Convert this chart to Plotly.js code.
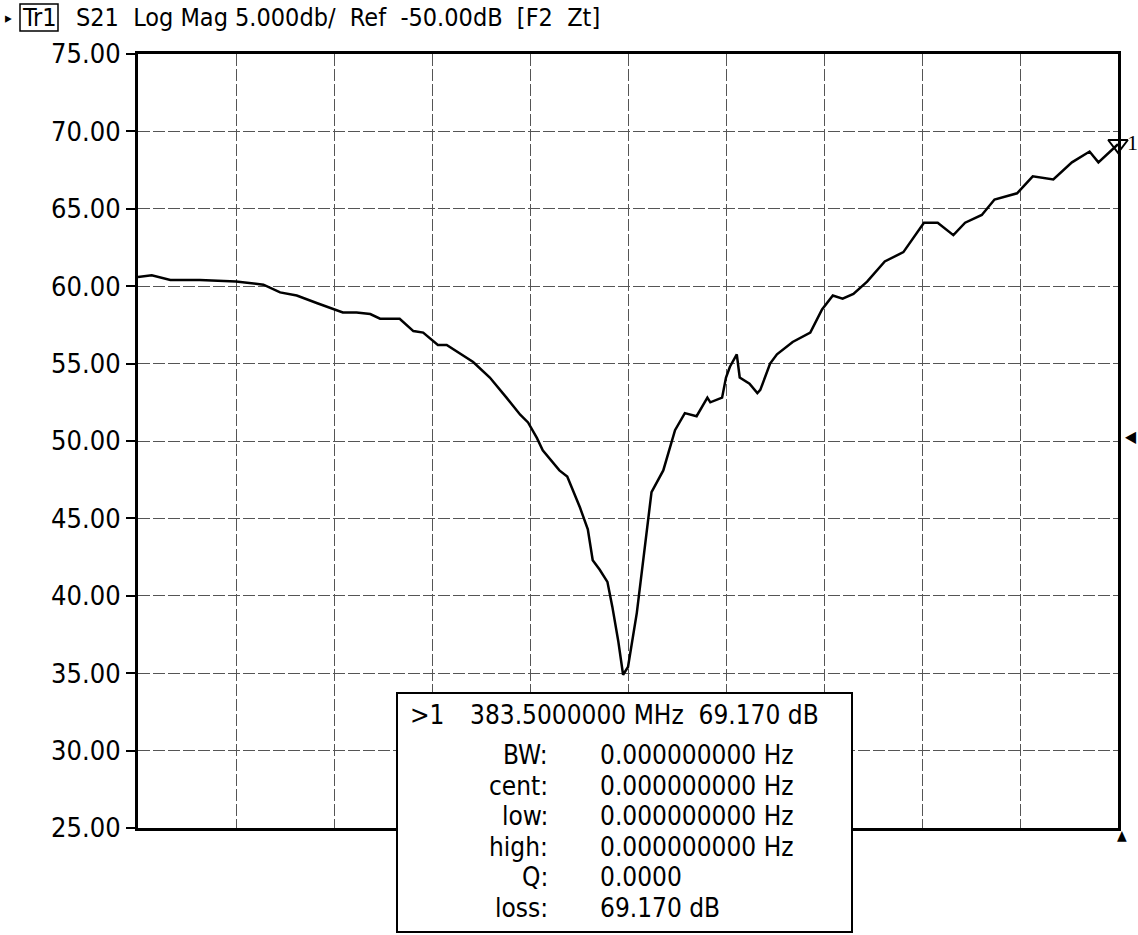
<!DOCTYPE html>
<html>
<head>
<meta charset="utf-8">
<script src="https://cdn.plot.ly/plotly-3.0.1.min.js"></script>
<style>html,body{margin:0;padding:0;background:#fff;}#chart{width:1138px;height:935px;}</style>
</head>
<body>
<div id="chart"></div>
<script>
// Sweep position in grid divisions (0 = start, 10 = stop; stop = 383.5 MHz)
const sweepDiv = [0.00,0.14,0.33,0.63,1.00,1.28,1.45,1.62,1.83,2.00,2.09,2.23,2.37,2.47,2.67,2.81,2.91,3.06,3.15,3.42,3.59,3.76,3.90,3.98,4.07,4.13,4.30,4.38,4.51,4.59,4.64,4.71,4.79,4.84,4.90,4.95,5.00,5.09,5.15,5.24,5.36,5.48,5.58,5.70,5.81,5.84,5.96,6.00,6.04,6.11,6.14,6.24,6.32,6.35,6.45,6.52,6.68,6.79,6.86,6.98,7.09,7.19,7.30,7.44,7.62,7.81,8.02,8.16,8.32,8.44,8.61,8.74,8.97,9.13,9.34,9.53,9.71,9.80,10.00];
// S21 log magnitude, dB
const s21Db = [60.6,60.7,60.4,60.4,60.3,60.1,59.6,59.4,58.9,58.5,58.3,58.3,58.2,57.9,57.9,57.1,57.0,56.2,56.2,55.1,54.1,52.8,51.7,51.2,50.2,49.4,48.1,47.7,45.7,44.3,42.3,41.7,40.9,39.3,37.1,34.9,35.4,38.9,41.9,46.7,48.1,50.7,51.8,51.6,52.8,52.5,52.8,54.1,54.8,55.6,54.1,53.7,53.1,53.3,55.0,55.6,56.4,56.8,57.0,58.5,59.4,59.2,59.5,60.3,61.6,62.2,64.1,64.1,63.3,64.1,64.6,65.6,66.0,67.1,66.9,68.0,68.7,68.0,69.17];
// Y tick values
const yTicks = [25,30,35,40,45,50,55,60,65,70,75];
// Marker 1
const markerDiv = [10.00];
const markerDb = [69.17];
// Text
const headerText = "S21\u00a0\u00a0Log Mag 5.000db/\u00a0\u00a0Ref\u00a0\u00a0-50.00dB\u00a0\u00a0[F2\u00a0\u00a0Zt]";
const markerLine = "383.5000000 MHz\u00a0\u00a069.170 dB";
const boxLabels = ["BW:","cent:","low:","high:","Q:","loss:"];
const boxValues = ["0.000000000 Hz","0.000000000 Hz","0.000000000 Hz","0.000000000 Hz","0.0000","69.170 dB"];

const FONT = "'DejaVu Sans Condensed','Liberation Sans Narrow','DejaVu Sans',sans-serif";
const L=138, R=1118, T=54, B=828;
const px = x => (x-L)/(R-L);
const py = y => (B-y)/(B-T);

const annotations = [];
function txt(text, x, y, anchor, size, font){
  annotations.push({text:text, xref:'paper', yref:'paper', x:px(x), y:py(y), xanchor:anchor, yanchor:'middle',
    showarrow:false, font:{family:font||FONT, size:size, color:'#000'}});
}
txt('\u25B8', 3, 18, 'left', 15);
txt('Tr1', 39, 18, 'center', 25);
txt(headerText, 74, 18, 'left', 25);
txt('>1', 408, 715, 'left', 26);
txt(markerLine, 468, 715, 'left', 26);
boxLabels.forEach((lab,i)=>{
  const y = 755 + i*30.6;
  txt(lab, 550, y, 'right', 26);
  txt(boxValues[i], 598, y, 'left', 26);
});
txt('1', 1125, 143, 'left', 22, "'Liberation Serif',serif");
txt('\u25C0', 1123, 437, 'left', 16);
txt('\u25B2', 1122, 835, 'center', 14);

const shapes = [
  {type:'rect', xref:'paper', yref:'paper', x0:px(20), x1:px(58), y0:py(31), y1:py(4), line:{color:'#000', width:1.5}, layer:'above'},
  {type:'rect', xref:'paper', yref:'paper', x0:px(397), x1:px(852), y0:py(932), y1:py(693), fillcolor:'#fff', line:{color:'#000', width:2}, layer:'above'}
];

const traces = [
  {x:sweepDiv, y:s21Db, type:'scatter', mode:'lines', line:{color:'#000', width:2.5}, hoverinfo:'skip'},
  {x:markerDiv, y:markerDb, type:'scatter', mode:'markers', cliponaxis:false,
   marker:{symbol:'triangle-down-open', size:17, color:'#000', line:{color:'#000', width:2}}, hoverinfo:'skip'}
];

const layout = {
  width:1138, height:935,
  margin:{l:L, r:1138-R, t:T, b:935-B},
  paper_bgcolor:'#fff', plot_bgcolor:'#fff',
  showlegend:false,
  font:{family:FONT, color:'#000'},
  xaxis:{range:[0,10], tick0:0, dtick:1, showticklabels:false, ticks:'',
    showgrid:true, gridcolor:'#555', gridwidth:1, griddash:'12px,3px',
    showline:true, mirror:true, linecolor:'#000', linewidth:3, zeroline:false, fixedrange:true},
  yaxis:{range:[25,75], tickmode:'array', tickvals:yTicks, ticktext:yTicks.map(v=>v.toFixed(2)),
    ticks:'outside', ticklen:9, tickwidth:2, tickcolor:'#000',
    tickfont:{family:FONT, size:27, color:'#000'},
    showgrid:true, gridcolor:'#555', gridwidth:1, griddash:'12px,3px',
    showline:true, mirror:true, linecolor:'#000', linewidth:3, zeroline:false, fixedrange:true},
  shapes:shapes,
  annotations:annotations
};
Plotly.newPlot('chart', traces, layout, {staticPlot:true, displayModeBar:false});
</script>
</body>
</html>
